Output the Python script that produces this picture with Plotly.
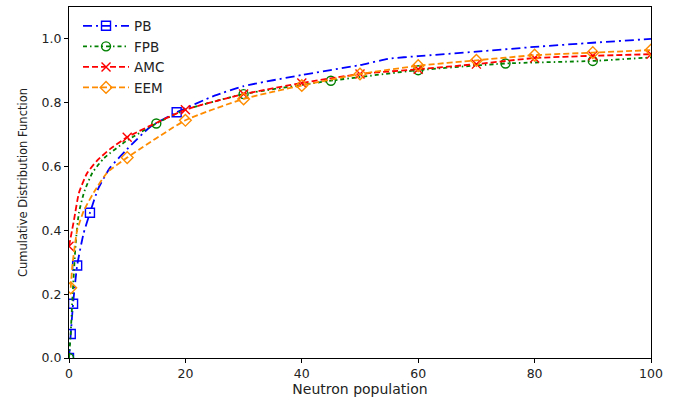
import plotly.graph_objects as go

# ---------------- data ----------------
PB_x = [0, 0.3, 0.7, 1.4, 2.5, 3.6, 5, 7, 10, 14, 18.5, 25, 30, 40, 50, 55, 60, 70, 80, 90, 100]
PB_y = [0, 0.075, 0.17, 0.29, 0.39, 0.455, 0.53, 0.595, 0.655, 0.725, 0.77, 0.822, 0.852, 0.887, 0.918, 0.938, 0.946, 0.96, 0.975, 0.988, 1.0]
PB_marks = [0, 0.3, 0.7, 1.4, 3.6, 18.5]

FPB_x = [0, 0.3, 0.57, 1.15, 1.7, 2.6, 4, 6, 10, 15, 20, 30, 45, 60, 75, 90, 100]
FPB_y = [0, 0.08, 0.18, 0.36, 0.455, 0.52, 0.58, 0.626, 0.682, 0.735, 0.778, 0.827, 0.869, 0.902, 0.923, 0.931, 0.942]
FPB_marks = [0, 15, 30, 45, 60, 75, 90]

AMC_x = [0, 0.86, 1.7, 3.1, 4.9, 7.2, 10, 20, 30, 40, 50, 60, 70, 80, 90, 100]
AMC_y = [0.35, 0.433, 0.517, 0.579, 0.62, 0.657, 0.692, 0.778, 0.827, 0.862, 0.89, 0.905, 0.921, 0.94, 0.947, 0.952]
AMC_marks = [0, 10, 20, 30, 40, 50, 60, 70, 80, 90, 100]

EEM_x = [0.3, 0.57, 1.4, 2.6, 4.3, 6.6, 10, 20, 30, 40, 50, 60, 70, 80, 90, 100]
EEM_y = [0.22, 0.288, 0.4, 0.464, 0.52, 0.582, 0.628, 0.745, 0.812, 0.854, 0.89, 0.916, 0.933, 0.949, 0.957, 0.965]
EEM_marks = [0.3, 10, 20, 30, 40, 50, 60, 70, 80, 90, 100]

series_names = ["PB", "FPB", "AMC", "EEM"]
x_ticks = [0, 20, 40, 60, 80, 100]
y_ticks = [0.0, 0.2, 0.4, 0.6, 0.8, 1.0]

# ---------------- styles ----------------
styles = {
    "PB":  dict(color="#0000ff", dash="9px,4px,2px,4px", symbol="square-open"),
    "FPB": dict(color="#008000", dash="4px,3px,1.5px,3px", symbol="circle-open"),
    "AMC": dict(color="#ff0000", dash="6px,3px", symbol="x-thin-open"),
    "EEM": dict(color="#ff8c00", dash="6px,3px", symbol="diamond-open"),
}
data = {
    "PB": (PB_x, PB_y, PB_marks),
    "FPB": (FPB_x, FPB_y, FPB_marks),
    "AMC": (AMC_x, AMC_y, AMC_marks),
    "EEM": (EEM_x, EEM_y, EEM_marks),
}

fig = go.Figure()
for name in series_names:
    xs, ys, marks = data[name]
    st = styles[name]
    lookup = dict(zip(xs, ys))
    fig.add_trace(go.Scatter(
        x=xs, y=ys, mode="lines", showlegend=False, hoverinfo="skip",
        line=dict(color=st["color"], dash=st["dash"], width=1.8, shape="spline", smoothing=0.5),
    ))
    fig.add_trace(go.Scatter(
        x=marks, y=[lookup[m] for m in marks], mode="markers", showlegend=False,
        marker=dict(symbol=st["symbol"], size=9, color=st["color"],
                    line=dict(color=st["color"], width=1.4)),
    ))
    # legend entry
    fig.add_trace(go.Scatter(
        x=[None], y=[None], mode="lines+markers", name=name,
        line=dict(color=st["color"], dash=st["dash"], width=1.8),
        marker=dict(symbol=st["symbol"], size=9, color=st["color"],
                    line=dict(color=st["color"], width=1.4)),
    ))

axis_common = dict(
    showline=True, linecolor="#000000", linewidth=1, mirror=True,
    ticks="outside", ticklen=4, tickcolor="#000000", tickwidth=1,
    showgrid=False, zeroline=False,
    tickfont=dict(family="DejaVu Sans", size=12.5, color="#222222"),
)

fig.update_layout(
    width=680, height=401,
    margin=dict(l=69, r=29, t=6, b=42),
    paper_bgcolor="white", plot_bgcolor="white",
    font=dict(family="DejaVu Sans", color="#222222"),
    xaxis=dict(range=[0, 100], tickvals=x_ticks, ticktext=[str(v) for v in x_ticks],
               title=dict(text="Neutron population", font=dict(size=14), standoff=4),
               **axis_common),
    yaxis=dict(range=[0, 1.1], tickvals=y_ticks, ticktext=[f"{v:.1f}" for v in y_ticks],
               title=dict(text="Cumulative Distribution Function", font=dict(size=11.5), standoff=11),
               **axis_common),
    legend=dict(x=0.0155, y=0.99, xanchor="left", yanchor="top", bgcolor="rgba(0,0,0,0)",
                borderwidth=0, font=dict(size=13.5, family="DejaVu Sans", color="#222222"),
                itemwidth=46, tracegroupgap=0),
)

fig.write_html("out.html")
